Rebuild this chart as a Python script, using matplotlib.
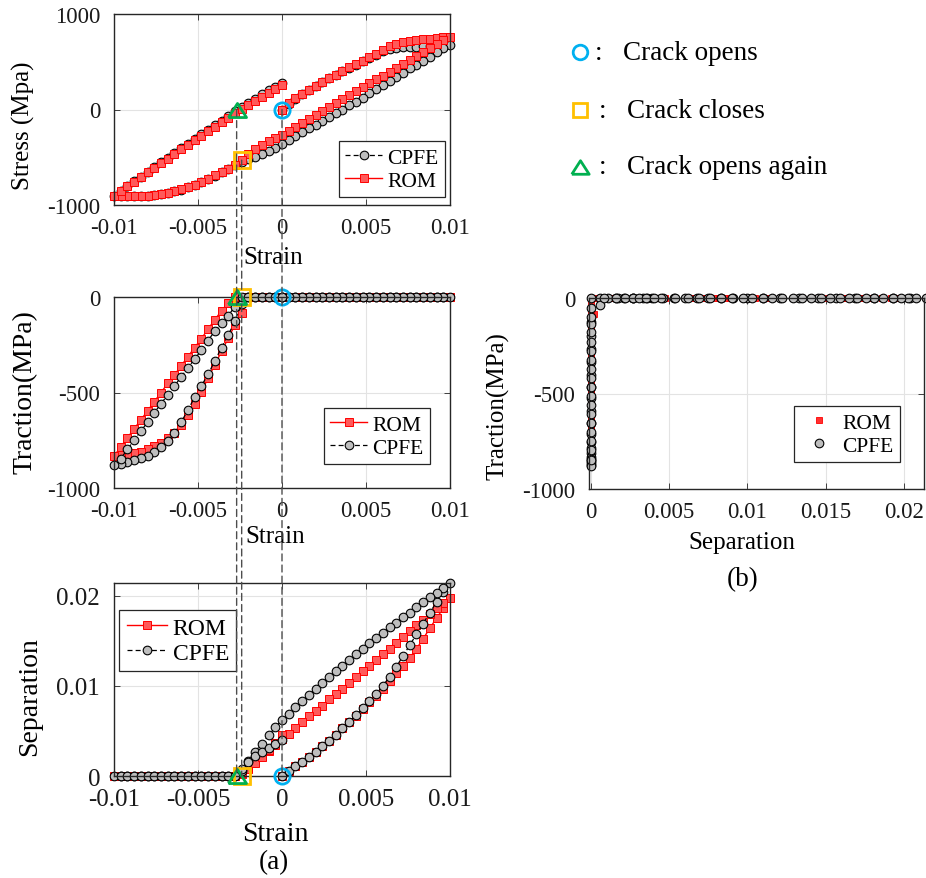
import numpy as np
import matplotlib
matplotlib.use("Agg")
import matplotlib.pyplot as plt
from matplotlib.patches import ConnectionPatch
from matplotlib.lines import Line2D

plt.rcParams["font.family"] = ["Liberation Serif", "DejaVu Serif"]
plt.rcParams["axes.unicode_minus"] = False

# ---------------------------------------------------------------- loading path
strain_load = [0.0000, 0.0004, 0.0008, 0.0012, 0.0016, 0.0020, 0.0024, 0.0028, 0.0032,
               0.0036, 0.0040, 0.0044, 0.0048, 0.0052, 0.0056, 0.0060, 0.0064, 0.0068,
               0.0072, 0.0076, 0.0080, 0.0084, 0.0088, 0.0092, 0.0096, 0.0100]
strain_unload = [0.0096, 0.0092, 0.0088, 0.0084, 0.0080, 0.0076, 0.0072, 0.0068, 0.0064,
                 0.0060, 0.0056, 0.0052, 0.0048, 0.0044, 0.0040, 0.0036, 0.0032, 0.0028,
                 0.0024, 0.0020, 0.0016, 0.0012, 0.0008, 0.0004, 0.0000, -0.0004, -0.0008,
                 -0.0012, -0.0016, -0.0020, -0.0024, -0.0028, -0.0032, -0.0036, -0.0040,
                 -0.0044, -0.0048, -0.0052, -0.0056, -0.0060, -0.0064, -0.0068, -0.0072,
                 -0.0076, -0.0080, -0.0084, -0.0088, -0.0092, -0.0096, -0.0100]
strain_reload = [-0.0096, -0.0092, -0.0088, -0.0084, -0.0080, -0.0076, -0.0072, -0.0068,
                 -0.0064, -0.0060, -0.0056, -0.0052, -0.0048, -0.0044, -0.0040, -0.0036,
                 -0.0032, -0.0028, -0.0024, -0.0020, -0.0016, -0.0012, -0.0008, -0.0004, 0.0000]

# ---------------------------------------------------------------- stress (MPa)
stress_cpfe_load = [0, 60, 115, 160, 200, 243, 285, 325, 362, 400, 435, 468, 503, 538, 575,
                    610, 632, 648, 655, 657, 658, 660, 664, 668, 672, 677]
stress_cpfe_unload = [640, 597, 554, 510, 466, 430, 386, 344, 301, 256, 213, 168, 125, 80, 44,
                      -2, -40, -82, -122, -160, -198, -237, -276, -316, -357, -400, -437, -466,
                      -497, -522, -548, -583, -622, -658, -693, -727, -760, -789, -815, -838,
                      -857, -873, -887, -897, -904, -908, -910, -910, -908, -905]
stress_cpfe_reload = [-852, -802, -752, -702, -652, -603, -553, -504, -455, -406, -357, -308,
                      -260, -212, -164, -116, -66, -18, 28, 72, 115, 158, 200, 240, 280]

stress_rom_load = [0, 65, 120, 165, 205, 248, 290, 330, 365, 405, 440, 472, 510, 545, 583,
                   625, 660, 685, 702, 716, 727, 735, 743, 749, 755, 762]
stress_rom_unload = [727, 686, 640, 598, 560, 520, 480, 438, 397, 356, 315, 274, 232, 191, 150,
                     109, 68, 26, -15, -56, -97, -138, -180, -221, -262, -300, -335, -372,
                     -415, -465, -530, -578, -618, -655, -690, -724, -757, -787, -813, -836,
                     -856, -872, -886, -896, -903, -907, -909, -909, -907, -904]
stress_rom_reload = [-855, -806, -757, -708, -659, -610, -562, -514, -466, -418, -370, -322,
                     -274, -226, -179, -132, -85, -38, 6, 48, 89, 130, 171, 212, 252]

# ---------------------------------------------------------------- cohesive traction (MPa)
traction_cpfe_load = [0.0] * 26
traction_cpfe_unload = [0.0] * 30 + [-35, -125, -200, -265, -335, -405, -465, -525, -592, -655,
                                     -712, -755, -786, -810, -830, -845, -856, -865, -873, -882]
traction_cpfe_reload = [-846, -798, -748, -702, -655, -606, -558, -512, -465, -418, -370, -325,
                        -278, -228, -178, -137, -97, -50] + [0.0] * 7

traction_rom_load = [0.0] * 26
traction_rom_unload = [0.0] * 30 + [-83, -146, -215, -285, -355, -425, -495, -560, -620, -672,
                                    -712, -740, -765, -781, -798, -810, -818, -824, -829, -833]
traction_rom_reload = [-785, -737, -690, -643, -596, -548, -500, -452, -408, -360, -312, -265,
                       -218, -168, -119, -72, -30] + [0.0] * 8

# ---------------------------------------------------------------- crack separation
sep_cpfe_load = [0.0, 0.0006, 0.0011, 0.0016, 0.0021, 0.0027, 0.0033, 0.0039, 0.0046, 0.0053,
                 0.0060, 0.0068, 0.0075, 0.0083, 0.0091, 0.0100, 0.0110, 0.0121, 0.0133,
                 0.0145, 0.0157, 0.0169, 0.0181, 0.0193, 0.0204, 0.0214]
sep_cpfe_unload = [0.0208, 0.0203, 0.0198, 0.0193, 0.0187, 0.0181, 0.0176, 0.0170, 0.0165,
                   0.0159, 0.0153, 0.0147, 0.0141, 0.0135, 0.0129, 0.0122, 0.0116, 0.0110,
                   0.0103, 0.0097, 0.0090, 0.0083, 0.0076, 0.0069, 0.0062, 0.0054, 0.0045,
                   0.0036, 0.0027, 0.0017, 0.0006] + [0.0] * 19
sep_cpfe_reload = [0.0] * 18 + [0.0008, 0.0016, 0.0022, 0.0027, 0.0031, 0.0035, 0.0040]

sep_rom_load = [0.0, 0.0006, 0.0011, 0.0016, 0.0021, 0.0027, 0.0033, 0.0039, 0.0046, 0.0053,
                0.0060, 0.0067, 0.0074, 0.0082, 0.0089, 0.0097, 0.0105, 0.0114, 0.0122,
                0.0131, 0.0141, 0.0152, 0.0164, 0.0175, 0.0186, 0.0197]
sep_rom_unload = [0.0192, 0.0186, 0.0180, 0.0173, 0.0167, 0.0161, 0.0154, 0.0148, 0.0141,
                  0.0135, 0.0129, 0.0122, 0.0116, 0.0110, 0.0103, 0.0097, 0.0091, 0.0085,
                  0.0078, 0.0072, 0.0066, 0.0060, 0.0053, 0.0047, 0.0041, 0.0034, 0.0028,
                  0.0022, 0.0015, 0.0009, 0.0002] + [0.0] * 19
sep_rom_reload = [0.0] * 18 + [0.0003, 0.0008, 0.0014, 0.0021, 0.0029, 0.0037, 0.0045]

# ---------------------------------------------------------------- crack events
event_names = ["Crack opens", "Crack closes", "Crack opens again"]
event_strain = [0.0, -0.0024, -0.0027]
event_stress = [0.0, -530.0, 0.0]

strain_ticks = [-0.01, -0.005, 0, 0.005, 0.01]
strain_labels = ["-0.01", "-0.005", "0", "0.005", "0.01"]

# ---------------------------------------------------------------- assemble full cycle
strain = np.array(strain_load + strain_unload + strain_reload)
stress_cpfe = np.array(stress_cpfe_load + stress_cpfe_unload + stress_cpfe_reload, float)
stress_rom = np.array(stress_rom_load + stress_rom_unload + stress_rom_reload, float)
trac_cpfe = np.array(traction_cpfe_load + traction_cpfe_unload + traction_cpfe_reload, float)
trac_rom = np.array(traction_rom_load + traction_rom_unload + traction_rom_reload, float)
sep_cpfe = np.array(sep_cpfe_load + sep_cpfe_unload + sep_cpfe_reload, float)
sep_rom = np.array(sep_rom_load + sep_rom_unload + sep_rom_reload, float)

# ---------------------------------------------------------------- styles
C_OPEN, C_CLOSE, C_AGAIN = "#00b0f0", "#ffc000", "#00b050"
event_colors = [C_OPEN, C_CLOSE, C_AGAIN]
TRI = [(-1, -0.78), (1, -0.78), (0, 0.78), (-1, -0.78)]
event_markers = ["o", "s", TRI]
event_sizes = [11, 11, 13]

cpfe_kw = dict(color="k", lw=0.9, linestyle=(0, (4, 2.5)), marker="o", ms=6.2,
               mfc="#bebebe", mec="k", mew=0.8, clip_on=False, label="CPFE")
rom_kw = dict(color="#ff0000", lw=1.0, linestyle="-", marker="s", ms=5.2,
              mfc="#ff5a5a", mec="#ff0000", mew=0.7, clip_on=False, label="ROM")

W, H = 926, 879
fig = plt.figure(figsize=(W / 100, H / 100), dpi=100)


def box(l, t, r, b):
    return [l / W, 1 - b / H, (r - l) / W, (b - t) / H]


def style(ax, tsize=16.5):
    ax.grid(True, color="#e3e3e3", lw=0.8)
    ax.set_axisbelow(True)
    ax.tick_params(direction="in", length=4, width=0.6, top=True, right=True,
                   labelsize=tsize, color="#262626", labelcolor="#1a1a1a")
    ax.tick_params(axis="x", pad=9)
    ax.tick_params(axis="y", pad=10)
    for s in ax.spines.values():
        s.set_color("#262626")
        s.set_linewidth(1.0)


def legend(ax, handles, right, top, fs):
    lg = ax.legend(handles=handles, loc="upper right",
                   bbox_to_anchor=(right / W, 1 - top / H), bbox_transform=fig.transFigure,
                   borderaxespad=0, fontsize=fs, frameon=True, fancybox=False,
                   edgecolor="#262626", framealpha=1, handlelength=1.7, handletextpad=0.25,
                   borderpad=0.3, labelspacing=0.15)
    lg.get_frame().set_linewidth(0.9)
    return lg


ax1 = fig.add_axes(box(114, 15, 450, 206))
ax2 = fig.add_axes(box(114, 298, 450, 489))
ax3 = fig.add_axes(box(114, 584, 450, 777))
ax4 = fig.add_axes(box(589, 299, 924, 490))

# --- stress-strain
style(ax1)
h_cpfe1, = ax1.plot(strain, stress_cpfe, **cpfe_kw)
h_rom1, = ax1.plot(strain, stress_rom, **rom_kw)
ax1.set_xlim(-0.01, 0.01)
ax1.set_ylim(-1000, 1000)
ax1.set_yticks([-1000, 0, 1000])
ax1.set_yticklabels(["-1000", "0", "1000"])
legend(ax1, [h_cpfe1, h_rom1], 445, 142, 15.5)

# --- traction-strain
style(ax2)
h_rom2, = ax2.plot(strain, trac_rom, **rom_kw)
h_cpfe2, = ax2.plot(strain, trac_cpfe, **cpfe_kw)
ax2.set_xlim(-0.01, 0.01)
ax2.set_ylim(-1000, 0)
ax2.set_yticks([-1000, -500, 0])
ax2.set_yticklabels(["-1000", "-500", "0"])
legend(ax2, [h_rom2, h_cpfe2], 430, 409, 15.5)

# --- separation-strain
style(ax3, 18)
h_rom3, = ax3.plot(strain, sep_rom, **rom_kw)
h_cpfe3, = ax3.plot(strain, sep_cpfe, **cpfe_kw)
ax3.set_xlim(-0.01, 0.01)
ax3.set_ylim(0, 0.0214)
ax3.set_yticks([0, 0.01, 0.02])
ax3.set_yticklabels(["0", "0.01", "0.02"])
legend(ax3, [h_rom3, h_cpfe3], 236, 611, 17)

for ax in (ax1, ax2, ax3):
    ax.set_xticks(strain_ticks)
    ax.set_xticklabels(strain_labels)

# --- traction-separation
style(ax4)
h_rom4, = ax4.plot(sep_rom, trac_rom, linestyle="none", marker="s", ms=4.2, mfc="#ff3030",
                   mec="#ff0000", mew=0.6, clip_on=False, label="ROM")
h_cpfe4, = ax4.plot(sep_cpfe, trac_cpfe, linestyle="none", marker="o", ms=6.2, mfc="#bebebe",
                    mec="k", mew=0.8, clip_on=False, label="CPFE")
ax4.set_xlim(-0.00013, 0.0213)
ax4.set_ylim(-1000, 0)
ax4.set_xticks([0, 0.005, 0.01, 0.015, 0.02])
ax4.set_xticklabels(["0", "0.005", "0.01", "0.015", "0.02"])
ax4.set_yticks([-1000, -500, 0])
ax4.set_yticklabels(["-1000", "-500", "0"])
legend(ax4, [h_rom4, h_cpfe4], 900, 407, 15.5)

# --- crack event markers in each strain panel
event_y = {ax1: event_stress, ax2: [0.0] * 3, ax3: [0.0] * 3}
for ax, ys in event_y.items():
    for x, y, c, m, s in zip(event_strain, ys, event_colors, event_markers, event_sizes):
        ax.plot([x], [y], linestyle="none", marker=m, ms=s, mfc="none", mec=c, mew=2.0,
                clip_on=False, zorder=5)

# --- dashed guides joining the events across the strain panels
for x, y in zip(event_strain, event_stress):
    con = ConnectionPatch(xyA=(x, y), coordsA=ax1.transData, xyB=(x, 0.0),
                          coordsB=ax3.transData, linestyle=(0, (5, 3)), color="#4d4d4d",
                          lw=1.0, zorder=4)
    fig.add_artist(con)

# --- axis titles
fig.text(23 / W, 1 - 126 / H, "Stress (Mpa)", rotation=90, ha="center", va="center", fontsize=18)
fig.text(273 / W, 1 - 258 / H, "Strain", ha="center", va="center", fontsize=18)
fig.text(25 / W, 1 - 392 / H, "Traction(MPa)", rotation=90, ha="center", va="center", fontsize=20)
fig.text(275 / W, 1 - 537 / H, "Strain", ha="center", va="center", fontsize=18)
fig.text(30 / W, 1 - 697 / H, "Separation", rotation=90, ha="center", va="center", fontsize=20)
fig.text(275 / W, 1 - 835 / H, "Strain", ha="center", va="center", fontsize=20)
fig.text(274 / W, 1 - 863 / H, "(a)", ha="center", va="center", fontsize=19.5)
fig.text(498 / W, 1 - 406 / H, "Traction(MPa)", rotation=90, ha="center", va="center", fontsize=18)
fig.text(742 / W, 1 - 543 / H, "Separation", ha="center", va="center", fontsize=18)
fig.text(743 / W, 1 - 580 / H, "(b)", ha="center", va="center", fontsize=19.5)

# --- key for the crack events
key_y = [53, 111, 168]
key_colon_x = [599, 603, 603]
key_text_x = [623, 627, 627]
for name, c, m, s, y, cx, tx in zip(event_names, event_colors, event_markers, event_sizes,
                                    key_y, key_colon_x, key_text_x):
    fig.add_artist(Line2D([580 / W], [1 - y / H], marker=m, ms=s - 0.5, mfc="none", mec=c,
                          mew=2.0, linestyle="none", transform=fig.transFigure))
    fig.text(cx / W, 1 - y / H, ":", ha="center", va="center", fontsize=19.5)
    fig.text(tx / W, 1 - y / H, name, ha="left", va="center", fontsize=19.5)

fig.savefig("out.png", dpi=100)
